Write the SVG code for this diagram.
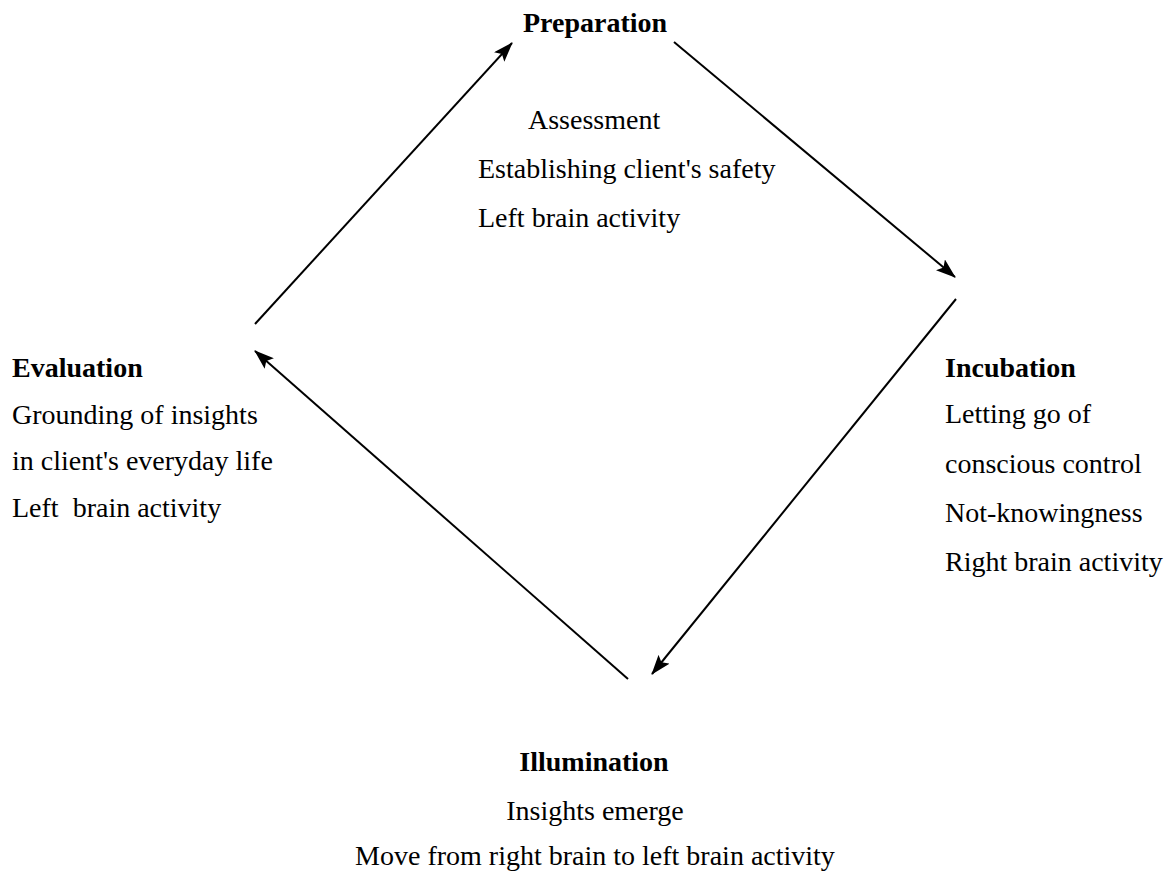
<svg xmlns="http://www.w3.org/2000/svg" width="1174" height="876" viewBox="0 0 1174 876">
<style>
text{font-family:"Liberation Serif","Times New Roman",serif;font-size:28px;fill:#000}
.b{font-weight:bold}
.c{text-anchor:middle}
line{stroke:#000;stroke-width:2}
</style>
<defs>
<marker id="ah" markerWidth="20" markerHeight="14" refX="19" refY="7" orient="auto" markerUnits="userSpaceOnUse" viewBox="0 0 20 14">
<path d="M0,0 L20,7 L0,14 L4,7 Z" fill="#000"/>
</marker>
</defs>
<rect width="1174" height="876" fill="#fff"/>
<g id="connectors">
<line x1="674" y1="42" x2="955" y2="277" marker-end="url(#ah)"/>
<line x1="956" y1="299" x2="652" y2="674" marker-end="url(#ah)"/>
<line x1="628" y1="679" x2="255" y2="351" marker-end="url(#ah)"/>
<line x1="255" y1="324" x2="512" y2="43" marker-end="url(#ah)"/>
</g>
<g id="preparation">
<text class="b c" x="595" y="32">Preparation</text>
<text x="528" y="129">Assessment</text>
<text x="478" y="178">Establishing client's safety</text>
<text x="478" y="227">Left brain activity</text>
</g>
<g id="incubation">
<text class="b" x="945" y="377">Incubation</text>
<text x="945" y="423">Letting go of</text>
<text x="945" y="473">conscious control</text>
<text x="945" y="522">Not-knowingness</text>
<text x="945" y="571">Right brain activity</text>
</g>
<g id="illumination">
<text class="b c" x="594" y="771">Illumination</text>
<text class="c" x="595" y="820">Insights emerge</text>
<text class="c" x="595" y="865">Move from right brain to left brain activity</text>
</g>
<g id="evaluation">
<text class="b" x="12" y="377">Evaluation</text>
<text x="12" y="424">Grounding of insights</text>
<text x="12" y="470">in client's everyday life</text>
<text x="12" y="517" xml:space="preserve">Left  brain activity</text>
</g>
</svg>
